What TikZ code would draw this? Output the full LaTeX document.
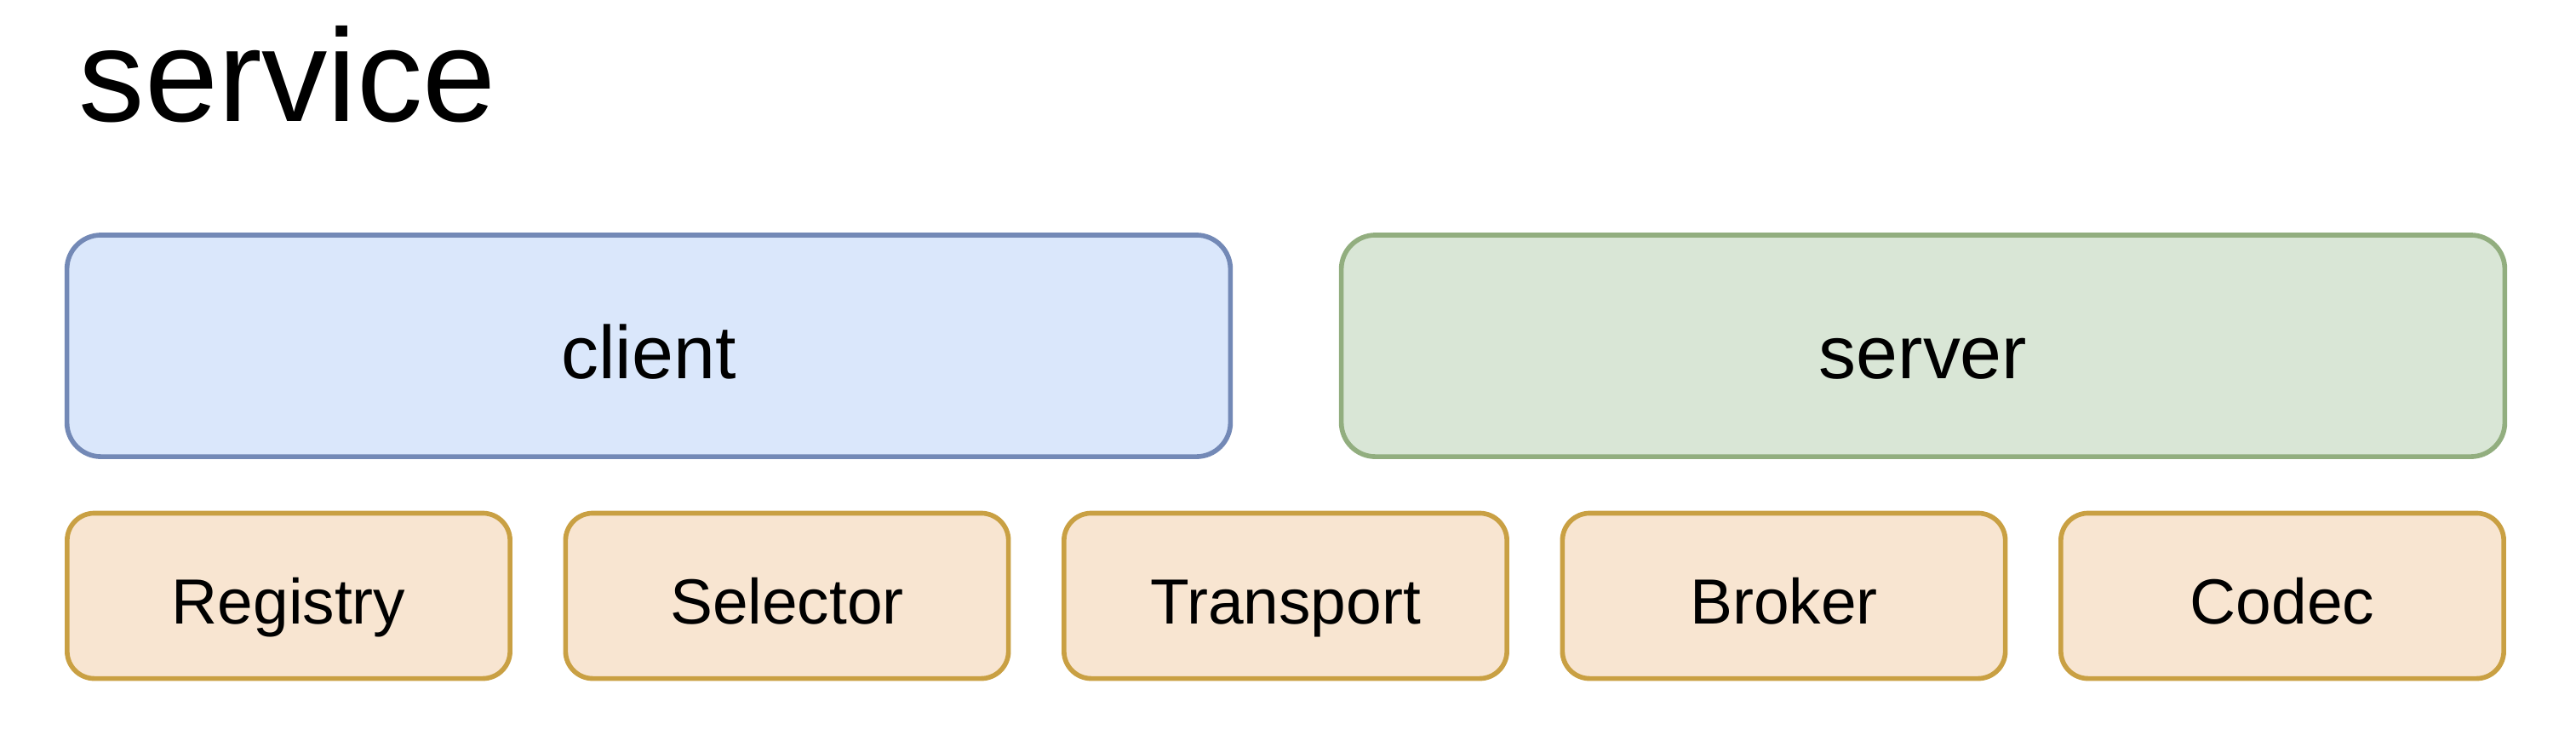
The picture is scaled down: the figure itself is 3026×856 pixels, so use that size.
\documentclass[tikz,border=0pt]{standalone}
\usepackage{fontspec}
\setmainfont{Liberation Sans}
\usetikzlibrary{positioning}

\definecolor{clientfill}{HTML}{DAE7FB}
\definecolor{clientline}{HTML}{7389B6}
\definecolor{serverfill}{HTML}{D9E6D6}
\definecolor{serverline}{HTML}{92AE7F}
\definecolor{partfill}{HTML}{F8E5D1}
\definecolor{partline}{HTML}{C9A043}

\tikzset{
  endbox/.style={draw, rectangle, rounded corners=0.4cm, line width=1.6pt,
    minimum width=13.66cm, minimum height=2.6cm, inner sep=0pt,
    text height=0.76cm, text depth=0pt,
    font=\fontsize{25}{30}\selectfont},
  partbox/.style={draw=partline, fill=partfill, rectangle, rounded corners=0.32cm,
    line width=1.6pt, minimum width=5.2cm, minimum height=1.94cm, inner sep=0pt,
    text height=0.65cm, text depth=0pt,
    font=\fontsize{21.3}{26}\selectfont}
}

\begin{document}
\begin{tikzpicture}[x=0.01cm,y=-0.01cm]
\useasboundingbox (0,0) rectangle (3026,856);

% title
\node[anchor=base west, inner sep=0pt, font=\fontsize{44}{50}\selectfont] (title) at (92,142) {service};

% client and server
\node[endbox, draw=clientline, fill=clientfill] (client) at (762,406) {client};
\node[endbox, draw=serverline, fill=serverfill] (server) at (2259,406) {server};

% components
\foreach \name/\lbl [count=\i from 0] in {registry/Registry,selector/Selector,transport/Transport,broker/Broker,codec/Codec}
  \node[partbox] (\name) at (339+585.5*\i,699.5) {\lbl};

\end{tikzpicture}
\end{document}
